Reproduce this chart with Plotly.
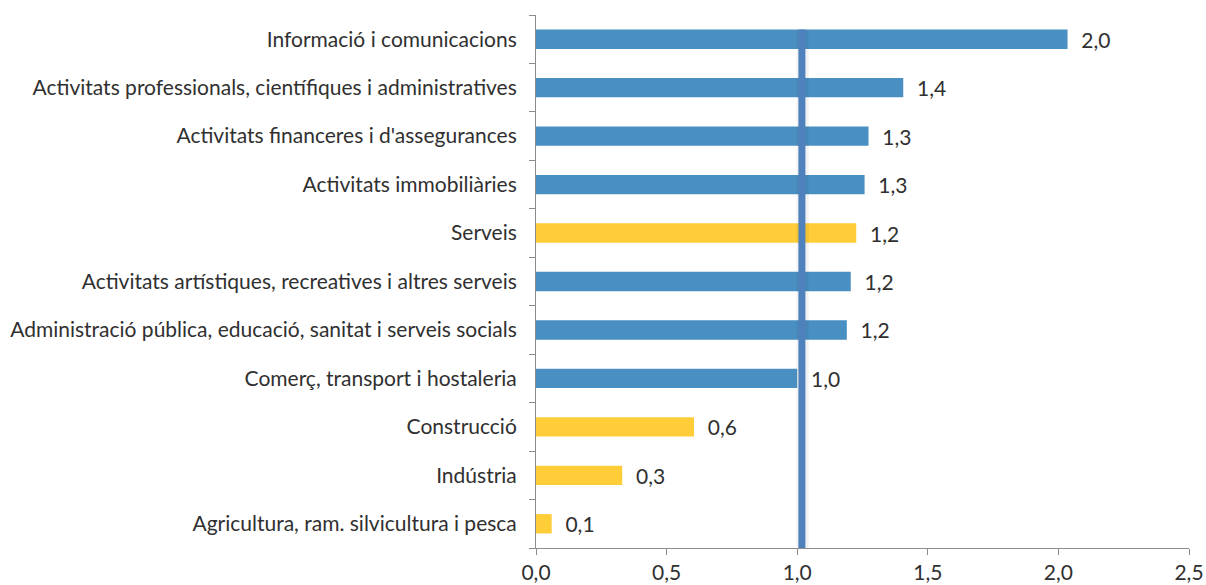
import plotly.graph_objects as go

# categories bottom -> top
sectors = [
    "Agricultura, ram. silvicultura i pesca",
    "Indústria",
    "Construcció",
    "Comerç, transport i hostaleria",
    "Administració pública, educació, sanitat i serveis socials",
    "Activitats artístiques, recreatives i altres serveis",
    "Serveis",
    "Activitats immobiliàries",
    "Activitats financeres i d'assegurances",
    "Activitats professionals, científiques i administratives",
    "Informació i comunicacions",
]
values = [0.06, 0.33, 0.605, 1.0, 1.19, 1.205, 1.226, 1.258, 1.273, 1.406, 2.035]
is_aggregate = [True, True, True, False, False, False, True, False, False, False, False]
reference_value = 1.018

BLUE = "#4A8FC2"
YELLOW = "#FFCD38"
LINE = "#4F81BD"
TEXT = "#303030"
AXIS = "#8C8C8C"
FONT = "Lato, Carlito, Calibri, sans-serif"
SIZE = 21

colors = [YELLOW if agg else BLUE for agg in is_aggregate]

fig = go.Figure()

fig.add_trace(
    go.Bar(
        x=values,
        y=sectors,
        orientation="h",
        marker=dict(color=colors, line=dict(width=0)),
        texttemplate="  %{x:.1f}",
        textposition="outside",
        constraintext="none",
        textfont=dict(size=SIZE, color=TEXT, family=FONT),
        cliponaxis=False,
        hoverinfo="skip",
    )
)

# soft shadow + reference line at 1
fig.add_shape(
    type="line", xref="x", yref="y",
    x0=reference_value + 0.003, x1=reference_value + 0.003,
    y0=-0.5, y1=len(sectors) - 1 + 0.18,
    line=dict(color="rgba(0,0,0,0.05)", width=12),
    layer="above",
)
fig.add_shape(
    type="line", xref="x", yref="y",
    x0=reference_value, x1=reference_value,
    y0=-0.5, y1=len(sectors) - 1 + 0.2,
    line=dict(color=LINE, width=7),
    layer="above",
)

fig.update_layout(
    width=1206,
    height=585,
    margin=dict(l=536, r=17, t=15, b=37),
    paper_bgcolor="white",
    plot_bgcolor="white",
    separators=",.",
    bargap=0.6,
    showlegend=False,
    font=dict(family=FONT, size=SIZE, color=TEXT),
)

fig.update_xaxes(
    range=[0, 2.5],
    tickvals=[0, 0.5, 1.0, 1.5, 2.0, 2.5],
    tickformat=".1f",
    automargin=False,
    showgrid=False,
    zeroline=False,
    showline=True,
    linecolor=AXIS,
    linewidth=1,
    ticks="outside",
    ticklen=6,
    tickcolor=AXIS,
    tickfont=dict(size=SIZE, color=TEXT, family=FONT),
)

fig.update_yaxes(
    type="category",
    range=[-0.5, len(sectors) - 0.5],
    automargin=False,
    showgrid=False,
    showline=True,
    linecolor=AXIS,
    linewidth=1,
    ticks="outside",
    tickson="boundaries",
    ticklen=6,
    tickcolor=AXIS,
    ticklabelstandoff=14,
    tickfont=dict(size=SIZE, color=TEXT, family=FONT),
)

# drop the default page margin so the figure fills the window exactly
fig.write_html(
    "out.html",
    config={"displayModeBar": False},
    post_script="document.body.style.margin='0';document.body.style.overflow='hidden';",
)
